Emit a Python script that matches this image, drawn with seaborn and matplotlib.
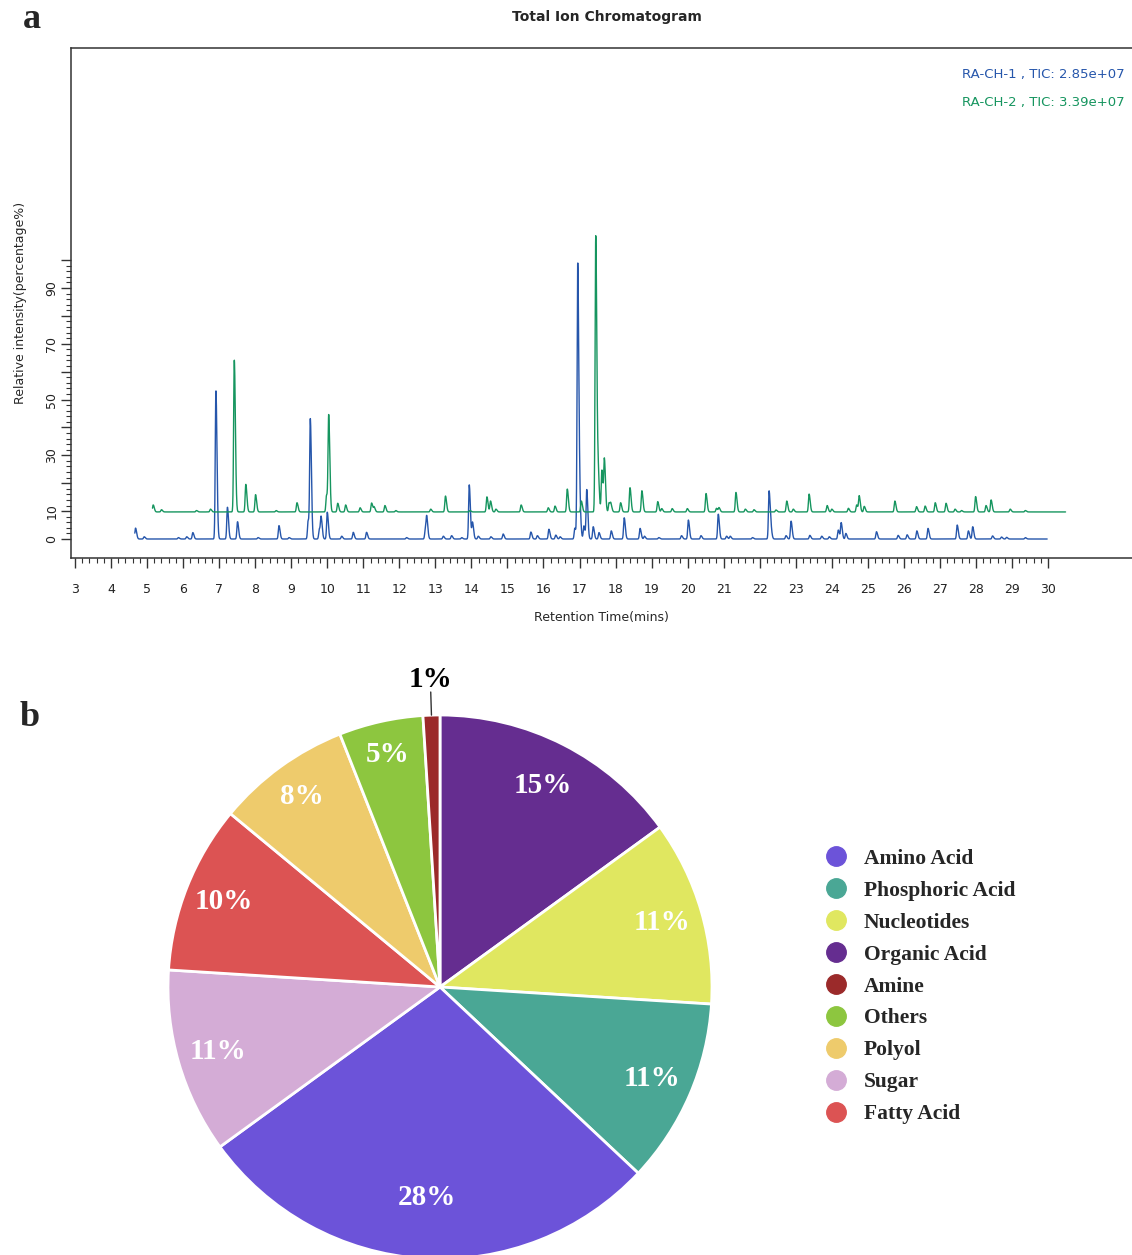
import numpy as np
import pandas as pd
import seaborn as sns
import matplotlib.pyplot as plt
from matplotlib.lines import Line2D

# ---- panel a: peak tables (retention time, relative height) ----
samples = ['RA-CH-1', 'RA-CH-2']
tic_values = ['2.85e+07', '3.39e+07']
trace_start = [4.66, 5.15]
trace_end = [29.98, 30.49]
trace_offset = [0.0, 9.7]

blue_rt = [4.68, 4.92, 5.87, 6.10, 6.27, 6.91, 7.23, 7.51, 8.08, 8.66,
           8.94, 9.47, 9.53, 9.78, 9.83, 10.00, 10.40, 10.72, 11.09, 12.20,
           12.72, 12.76, 13.22, 13.45, 13.73, 13.94, 14.03, 14.19, 14.54, 14.88,
           15.65, 15.83, 16.15, 16.34, 16.46, 16.87, 16.95, 17.01, 17.12, 17.20,
           17.38, 17.54, 17.88, 18.24, 18.68, 18.80, 19.20, 19.83, 20.02, 20.37,
           20.85, 21.08, 21.18, 21.80, 22.26, 22.31, 22.73, 22.87, 23.39, 23.72,
           23.93, 24.18, 24.26, 24.39, 25.24, 25.84, 26.09, 26.36, 26.67, 27.48,
           27.79, 27.91, 28.46, 28.71, 28.85, 29.37]
blue_h = [3.9, 0.8, 0.5, 0.8, 2.3, 53.2, 11.4, 6.2, 0.5, 4.8,
          0.5, 6.6, 42.4, 3.5, 7.3, 9.6, 1.0, 2.4, 2.4, 0.5,
          3.0, 7.2, 1.0, 1.2, 0.5, 19.4, 5.9, 1.0, 0.8, 1.8,
          2.5, 1.2, 3.5, 1.4, 0.8, 3.9, 99.0, 9.2, 4.7, 17.6,
          4.4, 2.3, 2.9, 7.6, 3.8, 1.0, 0.5, 1.2, 6.8, 1.2,
          8.9, 1.0, 1.0, 0.5, 17.2, 3.1, 1.2, 6.4, 1.3, 1.0,
          0.8, 3.2, 5.8, 2.0, 2.6, 1.3, 1.5, 2.9, 3.8, 5.0,
          2.9, 4.4, 1.1, 0.7, 0.6, 0.5]

green_rt = [5.17, 5.40, 6.37, 6.76, 7.42, 7.74, 8.01, 8.58, 9.16, 9.98,
            10.04, 10.29, 10.51, 10.91, 11.23, 11.30, 11.60, 11.90, 12.87, 13.28,
            13.96, 14.43, 14.53, 14.68, 15.38, 16.13, 16.32, 16.66, 17.05, 17.45,
            17.52, 17.62, 17.69, 17.82, 17.87, 18.14, 18.40, 18.73, 19.17, 19.28,
            19.57, 19.99, 20.51, 20.80, 20.87, 21.34, 21.60, 21.84, 22.45, 22.75,
            22.93, 23.37, 23.87, 24.00, 24.46, 24.69, 24.76, 24.90, 25.75, 26.35,
            26.59, 26.87, 27.17, 27.42, 27.60, 27.99, 28.28, 28.42, 28.95, 29.37]
green_h = [2.5, 0.8, 0.5, 1.0, 54.5, 9.9, 6.2, 0.5, 3.3, 6.0,
           34.2, 3.1, 2.5, 1.5, 3.2, 1.7, 2.3, 0.5, 1.0, 5.7,
           0.5, 5.4, 3.9, 1.0, 2.5, 1.5, 2.1, 8.2, 3.9, 99.0,
           12.4, 15.0, 18.4, 3.3, 2.5, 3.3, 8.7, 7.6, 3.7, 1.2,
           1.2, 1.2, 6.6, 1.3, 1.5, 7.0, 1.0, 0.8, 0.7, 3.9,
           1.0, 6.4, 2.3, 1.0, 1.3, 2.5, 5.7, 2.0, 3.9, 1.9,
           2.1, 3.3, 3.1, 1.0, 0.5, 5.5, 2.3, 4.3, 1.0, 0.5]

# ---- panel b: class composition (clockwise from 12 o'clock) ----
pie_labels = ['Organic Acid', 'Nucleotides', 'Phosphoric Acid', 'Amino Acid', 'Sugar',
              'Fatty Acid', 'Polyol', 'Others', 'Amine']
pie_values = [15, 11, 11, 28, 11, 10, 8, 5, 1]
legend_order = ['Amino Acid', 'Phosphoric Acid', 'Nucleotides', 'Organic Acid', 'Amine',
                'Others', 'Polyol', 'Sugar', 'Fatty Acid']

class_colors = {'Amino Acid': '#6c53d9', 'Phosphoric Acid': '#4aa795', 'Nucleotides': '#e0e760',
                'Organic Acid': '#652d90', 'Amine': '#9b2a2a', 'Others': '#8dc63f',
                'Polyol': '#eecb6c', 'Sugar': '#d4acd6', 'Fatty Acid': '#dc5353'}
line_colors = {'RA-CH-1': '#2656ab', 'RA-CH-2': '#16955f'}

sns.set_style('ticks')
plt.rcParams['font.family'] = ['DejaVu Sans']
serif = ['Liberation Serif', 'DejaVu Serif']

W, H = 1132, 1255
fig = plt.figure(figsize=(W / 100, H / 100), dpi=100)


def build_trace(rt, h, t0, t1, offset):
    t = np.arange(t0, t1, 0.004)
    y = np.zeros_like(t)
    for r, a in zip(rt, h):
        s = np.where(t < r, 0.018, 0.03)  # slight tailing on each peak
        y += a * np.exp(-0.5 * ((t - r) / s) ** 2)
    return t, y + offset


frames = []
for name, rt, h, t0, t1, off in zip(samples, [blue_rt, green_rt], [blue_h, green_h],
                                     trace_start, trace_end, trace_offset):
    t, y = build_trace(rt, h, t0, t1, off)
    frames.append(pd.DataFrame({'time': t, 'intensity': y, 'sample': name}))
df = pd.concat(frames, ignore_index=True)

ax = fig.add_axes([71 / W, 1 - 558 / H, 1 - 71 / W, 510 / H])
sns.lineplot(data=df, x='time', y='intensity', hue='sample', palette=line_colors,
             linewidth=1.0, legend=False, estimator=None, sort=False, ax=ax)

ax.set_xlim(2.889, 32.33)
ax.set_ylim(-6.81, 176.0)
ax.spines['right'].set_visible(False)
for sp in ['left', 'bottom', 'top']:
    ax.spines[sp].set_color('#333333')
    ax.spines[sp].set_linewidth(1.1)

ax.set_xticks(np.arange(3, 31, 1))
ax.set_xticks(np.arange(3, 30.01, 0.2), minor=True)
ax.set_xticklabels([str(v) for v in range(3, 31)])
yt = np.arange(0, 101, 10)
ax.set_yticks(yt)
ax.set_yticks(np.arange(0, 100.1, 2), minor=True)
ax.set_yticklabels([str(v) if v in (0, 10, 30, 50, 70, 90) else '' for v in yt],
                   rotation=90, va='center')
ax.tick_params(which='major', direction='out', length=7, width=1, color='#333333',
               labelsize=9, labelcolor='#222222')
ax.tick_params(which='minor', direction='out', length=3.5, width=0.8, color='#333333')
ax.tick_params(axis='x', which='major', pad=11)
ax.tick_params(axis='y', which='major', pad=2)
ax.set_xlabel('Retention Time(mins)', fontsize=9, labelpad=11)
ax.set_ylabel('Relative intensity(percentage%)', fontsize=9, labelpad=13)

for i, (name, tic) in enumerate(zip(samples, tic_values)):
    ax.text(0.9934, 0.949 - i * 0.055, f'{name} , TIC: {tic}', transform=ax.transAxes,
            ha='right', va='center', fontsize=9.5, color=line_colors[name])

fig.text(607 / W, 1 - 17 / H, 'Total Ion Chromatogram', ha='center', va='center',
         fontsize=10, fontweight='bold')
fig.text(32 / W, 1 - 20 / H, 'a', ha='center', va='center', fontsize=26,
         fontweight='bold', family=serif)
fig.text(30 / W, 1 - 718 / H, 'b', ha='center', va='center', fontsize=26,
         fontweight='bold', family=serif)

# ---- pie ----
R = 272
cx, cy = 440, 987
pax = fig.add_axes([(cx - R) / W, 1 - (cy + R) / H, 2 * R / W, 2 * R / H])
wedges, _, autotexts = pax.pie(pie_values, colors=[class_colors[k] for k in pie_labels],
                               startangle=90, counterclock=False,
                               autopct=lambda p: f'{p:.0f}%', pctdistance=0.83,
                               wedgeprops=dict(edgecolor='white', linewidth=2))
pax.set_xlim(-1, 1)
pax.set_ylim(-1, 1)
pax.set_aspect('equal')

for w, txt, val in zip(wedges, autotexts, pie_values):
    ang = np.deg2rad((w.theta1 + w.theta2) / 2)
    txt.set_fontsize(21)
    txt.set_fontweight('bold')
    txt.set_family(serif)
    if val > 2:
        r = 0.90 - 0.0045 * val
        txt.set_position((r * np.cos(ang), r * np.sin(ang)))
        txt.set_color('white')
    else:
        txt.set_position((1.13 * np.cos(ang), 1.13 * np.sin(ang)))
        txt.set_color('black')
        pax.plot([np.cos(ang), 1.085 * np.cos(ang)], [np.sin(ang), 1.085 * np.sin(ang)],
                 color='#333333', lw=1, clip_on=False)

handles = [Line2D([], [], marker='o', ls='', markersize=14, markerfacecolor=class_colors[k],
                  markeredgecolor=class_colors[k]) for k in legend_order]
fig.legend(handles, legend_order, loc='center left', bbox_to_anchor=(0.7239, 1 - 986.5 / H),
           frameon=False, prop={'family': serif, 'weight': 'bold', 'size': 15.5},
           handlelength=1.5, handletextpad=0.55, labelspacing=0.55, borderpad=0,
           borderaxespad=0)

fig.savefig('out.png', dpi=100)
